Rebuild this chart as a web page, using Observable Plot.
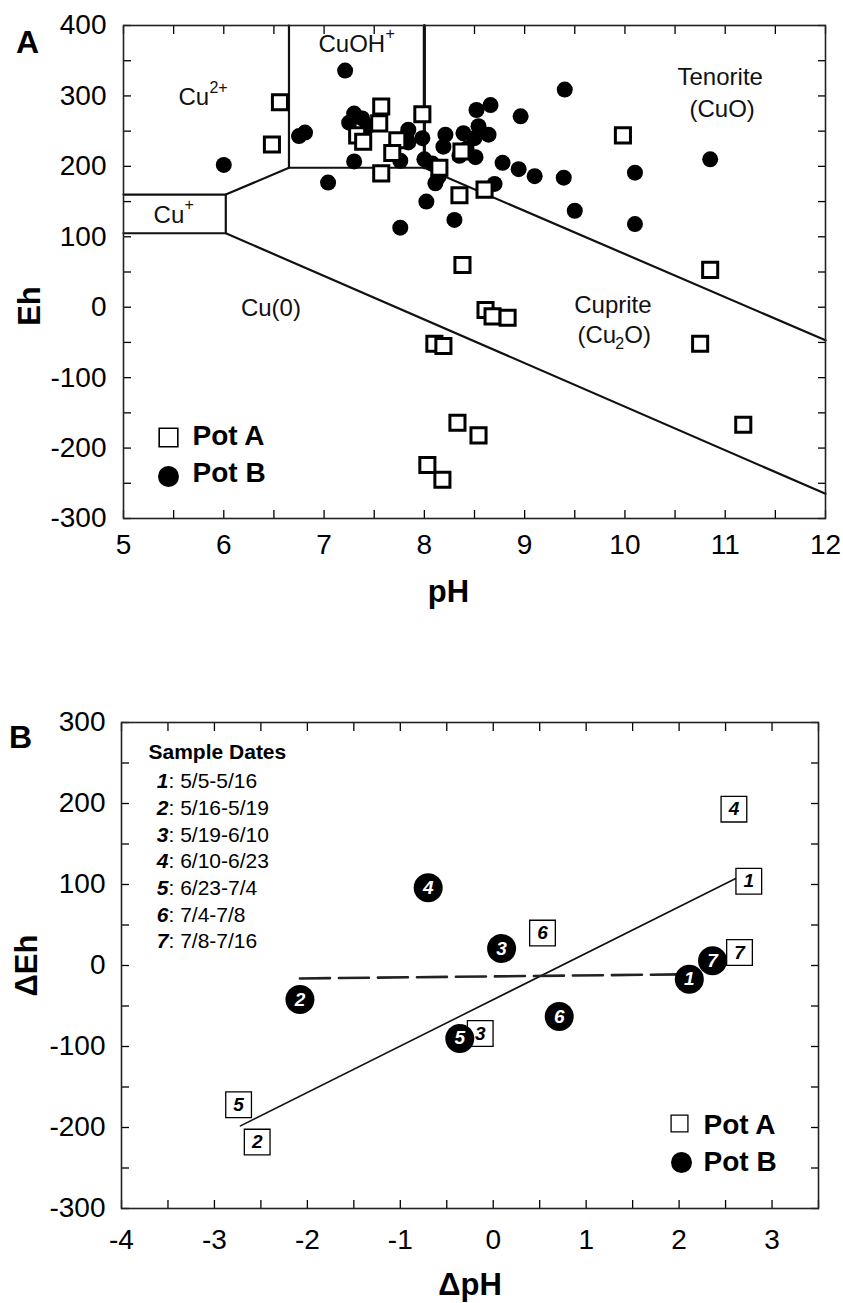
<!DOCTYPE html>
<html>
<head>
<meta charset="utf-8">
<script src="https://cdn.jsdelivr.net/npm/d3@7"></script>
<script src="https://cdn.jsdelivr.net/npm/@observablehq/plot@0.6"></script>
<style>
  body { margin: 0; background: #fff; }
  #wrap { position: relative; width: 843px; height: 1303px; overflow: hidden; }
  #a { position: absolute; left: 0; top: 0; }
  #b { position: absolute; left: 0; top: 650px; }
</style>
</head>
<body>
<div id="wrap"><div id="a"></div><div id="b"></div></div>
<script>
// ---------------- Panel A data (pH vs Eh) ----------------
const potA_pH = [6.56, 6.48, 7.57, 7.55, 7.33, 7.39, 7.98, 7.73, 7.68, 7.57, 8.15, 8.35, 8.60, 9.98, 8.37, 8.38, 8.61, 8.68, 8.83, 8.10, 8.19, 8.33, 8.54, 8.03, 8.18, 10.85, 10.75, 11.18];
const potA_Eh = [291, 231, 285, 261, 244, 235, 274, 237, 219, 190, 198, 159, 167, 244, 221, 60, -4, -13, -15, -52, -55, -164, -182, -224, -245, 53, -52, -167];
const potB_pH = [6.00, 6.75, 6.81, 7.04, 7.21, 7.25, 7.30, 7.38, 7.44, 7.30, 7.76, 7.76, 7.84, 7.84, 7.98, 8.00, 8.08, 8.11, 8.14, 8.02, 8.30, 8.21, 8.19, 8.39, 8.52, 8.66, 8.54, 8.64, 8.51, 8.42, 8.78, 8.96, 8.94, 9.10, 9.39, 9.40, 9.50, 8.70, 10.10, 10.10, 10.85, 7.82, 8.35, 8.50];
const potB_Eh = [202, 243, 248, 177, 336, 262, 275, 268, 257, 207, 113, 208, 252, 234, 240, 210, 204, 176, 185, 150, 124, 245, 228, 247, 280, 287, 257, 245, 213, 225, 205, 271, 196, 186, 184, 309, 137, 175, 191, 118, 210, 243, 215, 240];

// stability-field boundaries (pH, Eh polylines)
const boundaryPH = [[5, 6.02, 6.65, 8.0, 12], [5, 6.02, 12], [6.02, 6.02], [6.65, 6.65]];
const boundaryEh = [[160, 160, 198, 198, -47], [105, 105, -265], [105, 160], [198, 400]];
const boundaryCuOH_PH = [8.0, 8.0];
const boundaryCuOH_Eh = [198, 400];

// region labels
const regionStartText = ["Cu", "Cu", "CuOH", "(Cu", "O)"];
const regionStartPH = [5.548, 5.30, 6.944, 9.526, 9.993];
const regionStartEh = [298, 130, 373, -40, -40];
const regionSupText = ["2+", "+", "+"];
const regionSupPH = [5.857, 5.608, 7.612];
const regionSupEh = [312, 145, 388];
const regionSubText = ["2"];
const regionSubPH = [9.903];
const regionSubEh = [-52];
const regionCenterText = ["Tenorite", "(CuO)", "Cuprite", "Cu(0)"];
const regionCenterPH = [10.95, 10.97, 9.88, 6.47];
const regionCenterEh = [326, 281, 2, -2];

const xTicksA = [5, 6, 7, 8, 9, 10, 11, 12];
const xMinorA = [5, 5.5, 6, 6.5, 7, 7.5, 8, 8.5, 9, 9.5, 10, 10.5, 11, 11.5, 12];
const yTicksA = [-300, -200, -100, 0, 100, 200, 300, 400];
const yMinorA = [-300, -250, -200, -150, -100, -50, 0, 50, 100, 150, 200, 250, 300, 350, 400];

// ---------------- Panel B data (ΔpH vs ΔEh) ----------------
const sampleLabels = ["1", "2", "3", "4", "5", "6", "7"];
const sampleDates = ["5/5-5/16", "5/16-5/19", "5/19-6/10", "6/10-6/23", "6/23-7/4", "7/4-7/8", "7/8-7/16"];
const potA_dpH = [2.75, -2.54, -0.14, 2.59, -2.74, 0.53, 2.65];
const potA_dEh = [104, -218, -84, 193, -172, 40, 16];
const potB_dpH = [2.11, -2.08, 0.09, -0.70, -0.36, 0.71, 2.36];
const potB_dEh = [-17, -42, 21, 96, -90, -63, 6];
const fitA_dpH = [-2.72, 2.62];
const fitA_dEh = [-198, 108];
const fitB_dpH = [-2.08, 2.01];
const fitB_dEh = [-16, -11];

const xTicksB = [-4, -3, -2, -1, 0, 1, 2, 3];
const xMinorB = [-4, -3.5, -3, -2.5, -2, -1.5, -1, -0.5, 0, 0.5, 1, 1.5, 2, 2.5, 3, 3.5];
const yTicksB = [-300, -200, -100, 0, 100, 200, 300];
const yMinorB = [-300, -250, -200, -150, -100, -50, 0, 50, 100, 150, 200, 250, 300];

// ---------------- helpers ----------------
const FONT = "'Liberation Sans', Arial, Helvetica, sans-serif";
const rows = (xs, ys, extra = {}) => xs.map((x, i) => ({x, y: ys[i], ...Object.fromEntries(Object.entries(extra).map(([k, v]) => [k, v[i]]))}));
const blank = () => "";
const plain = d => String(d);

function tickMarks(xMinor, yMinor) {
  const o = {tickSize: 8, inset: 8, tickFormat: blank, label: null, strokeWidth: 1.3};
  return [
    Plot.axisX({ticks: xMinor, anchor: "bottom", ...o}),
    Plot.axisX({ticks: xMinor, anchor: "top", ...o}),
    Plot.axisY({ticks: yMinor, anchor: "left", ...o}),
    Plot.axisY({ticks: yMinor, anchor: "right", ...o})
  ];
}
const ftext = (s, opts) => Plot.text([s], {text: d => d, lineAnchor: "middle", ...opts});

// ---------------- Panel A ----------------
const boundaryRows = boundaryPH.flatMap((xs, k) => xs.map((x, i) => ({x, y: boundaryEh[k][i], k})));

const plotA = Plot.plot({
  width: 843, height: 650,
  marginLeft: 123, marginRight: 18, marginTop: 25, marginBottom: 132,
  x: {domain: [5, 12]},
  y: {domain: [-300, 400]},
  style: {fontFamily: FONT, fontSize: "28px", color: "#000", background: "#fff", overflow: "visible"},
  marks: [
    ...tickMarks(xMinorA, yMinorA),
    Plot.axisX({ticks: xTicksA, anchor: "bottom", tickSize: 0, tickPadding: 16, tickFormat: plain, label: null, fontSize: 28}),
    Plot.axisY({ticks: yTicksA, anchor: "left", tickSize: 0, tickPadding: 17, tickFormat: plain, label: null, fontSize: 28}),
    Plot.line(boundaryRows, {x: "x", y: "y", z: "k", stroke: "#111", strokeWidth: 2.2}),
    Plot.line(rows(boundaryCuOH_PH, boundaryCuOH_Eh), {x: "x", y: "y", stroke: "#111", strokeWidth: 3.2}),
    Plot.frame({stroke: "#222", strokeWidth: 1.6}),
    // region labels
    Plot.text(rows(regionStartPH, regionStartEh, {t: regionStartText}), {x: "x", y: "y", text: "t", textAnchor: "start", fontSize: 24, fill: "#111"}),
    Plot.text(rows(regionSupPH, regionSupEh, {t: regionSupText}), {x: "x", y: "y", text: "t", textAnchor: "start", fontSize: 16, fill: "#111"}),
    Plot.text(rows(regionSubPH, regionSubEh, {t: regionSubText}), {x: "x", y: "y", text: "t", textAnchor: "start", fontSize: 16, fill: "#111"}),
    Plot.text(rows(regionCenterPH, regionCenterEh, {t: regionCenterText}), {x: "x", y: "y", text: "t", textAnchor: "middle", fontSize: 24, fill: "#111"}),
    // data
    Plot.dot(rows(potB_pH, potB_Eh), {x: "x", y: "y", r: 8, fill: "#000"}),
    Plot.dot(rows(potA_pH, potA_Eh), {x: "x", y: "y", symbol: "square", r: 8.5, fill: "#fff", stroke: "#000", strokeWidth: 3}),
    // legend
    Plot.dot(["Pot A"], {frameAnchor: "top-left", dx: 45, dy: 412, symbol: "square", r: 10.5, fill: "#fff", stroke: "#000", strokeWidth: 1.6}),
    ftext("Pot A", {frameAnchor: "top-left", dx: 69, dy: 411, textAnchor: "start", fontWeight: "bold", fontSize: 28}),
    Plot.dot(["Pot B"], {frameAnchor: "top-left", dx: 45, dy: 451, r: 10.5, fill: "#000"}),
    ftext("Pot B", {frameAnchor: "top-left", dx: 69, dy: 448, textAnchor: "start", fontWeight: "bold", fontSize: 28}),
    // titles
    ftext("A", {frameAnchor: "top-left", dx: -96, dy: 17, textAnchor: "middle", fontWeight: "bold", fontSize: 32}),
    ftext("pH", {frameAnchor: "bottom", dx: -26, dy: 74, textAnchor: "middle", fontWeight: "bold", fontSize: 31}),
    ftext("Eh", {frameAnchor: "left", dx: -93, dy: 34, textAnchor: "middle", rotate: -90, fontWeight: "bold", fontSize: 31})
  ]
});
document.getElementById("a").appendChild(plotA);

// ---------------- Panel B ----------------
const ptsA = rows(potA_dpH, potA_dEh, {t: sampleLabels});
const ptsB = rows(potB_dpH, potB_dEh, {t: sampleLabels});
const dateRowDy = [59, 85.7, 112.4, 139, 165.7, 192.4, 219];

const plotB = Plot.plot({
  width: 843, height: 653,
  marginLeft: 121, marginRight: 25, marginTop: 72, marginBottom: 95,
  x: {domain: [-4, 3.5]},
  y: {domain: [-300, 300]},
  style: {fontFamily: FONT, fontSize: "28px", color: "#000", background: "#fff", overflow: "visible"},
  marks: [
    ...tickMarks(xMinorB, yMinorB),
    Plot.axisX({ticks: xTicksB, anchor: "bottom", tickSize: 0, tickPadding: 21, tickFormat: plain, label: null, fontSize: 28}),
    Plot.axisY({ticks: yTicksB, anchor: "left", tickSize: 0, tickPadding: 16, tickFormat: plain, label: null, fontSize: 28}),
    Plot.frame({stroke: "#222", strokeWidth: 1.6}),
    Plot.line(rows(fitA_dpH, fitA_dEh), {x: "x", y: "y", stroke: "#111", strokeWidth: 1.6}),
    Plot.line(rows(fitB_dpH, fitB_dEh), {x: "x", y: "y", stroke: "#222", strokeWidth: 2.6, strokeDasharray: "30,9"}),
    Plot.dot(ptsA, {x: "x", y: "y", symbol: "square", r: 14.5, fill: "#fff", stroke: "#000", strokeWidth: 1.3}),
    Plot.text(ptsA, {x: "x", y: "y", text: "t", fontStyle: "italic", fontWeight: "bold", fontSize: 19, fill: "#000"}),
    Plot.dot(ptsB, {x: "x", y: "y", r: 14.5, fill: "#000"}),
    Plot.text(ptsB, {x: "x", y: "y", text: "t", fontStyle: "italic", fontWeight: "bold", fontSize: 19, fill: "#fff"}),
    // sample-dates legend
    ftext("Sample Dates", {frameAnchor: "top-left", dx: 27, dy: 30, textAnchor: "start", fontWeight: "bold", fontSize: 21}),
    ...sampleLabels.map((lab, i) => ftext(lab, {frameAnchor: "top-left", dx: 47, dy: dateRowDy[i], textAnchor: "end", fontWeight: "bold", fontStyle: "italic", fontSize: 21})),
    ...sampleDates.map((dt, i) => ftext(": " + dt, {frameAnchor: "top-left", dx: 47, dy: dateRowDy[i], textAnchor: "start", fontSize: 21})),
    // pot legend
    Plot.dot(["Pot A"], {frameAnchor: "top-left", dx: 558, dy: 401, symbol: "square", r: 9.5, fill: "#fff", stroke: "#000", strokeWidth: 1.3}),
    ftext("Pot A", {frameAnchor: "top-left", dx: 582, dy: 403, textAnchor: "start", fontWeight: "bold", fontSize: 28}),
    Plot.dot(["Pot B"], {frameAnchor: "top-left", dx: 560, dy: 440, r: 10.5, fill: "#000"}),
    ftext("Pot B", {frameAnchor: "top-left", dx: 582, dy: 440, textAnchor: "start", fontWeight: "bold", fontSize: 28}),
    // titles
    ftext("B", {frameAnchor: "top-left", dx: -101, dy: 15, textAnchor: "middle", fontWeight: "bold", fontSize: 32}),
    ftext("ΔpH", {frameAnchor: "bottom", dx: 0, dy: 77, textAnchor: "middle", fontWeight: "bold", fontSize: 31}),
    ftext("ΔEh", {frameAnchor: "left", dx: -94, dy: 0, textAnchor: "middle", rotate: -90, fontWeight: "bold", fontSize: 31})
  ]
});
document.getElementById("b").appendChild(plotB);
</script>
</body>
</html>
